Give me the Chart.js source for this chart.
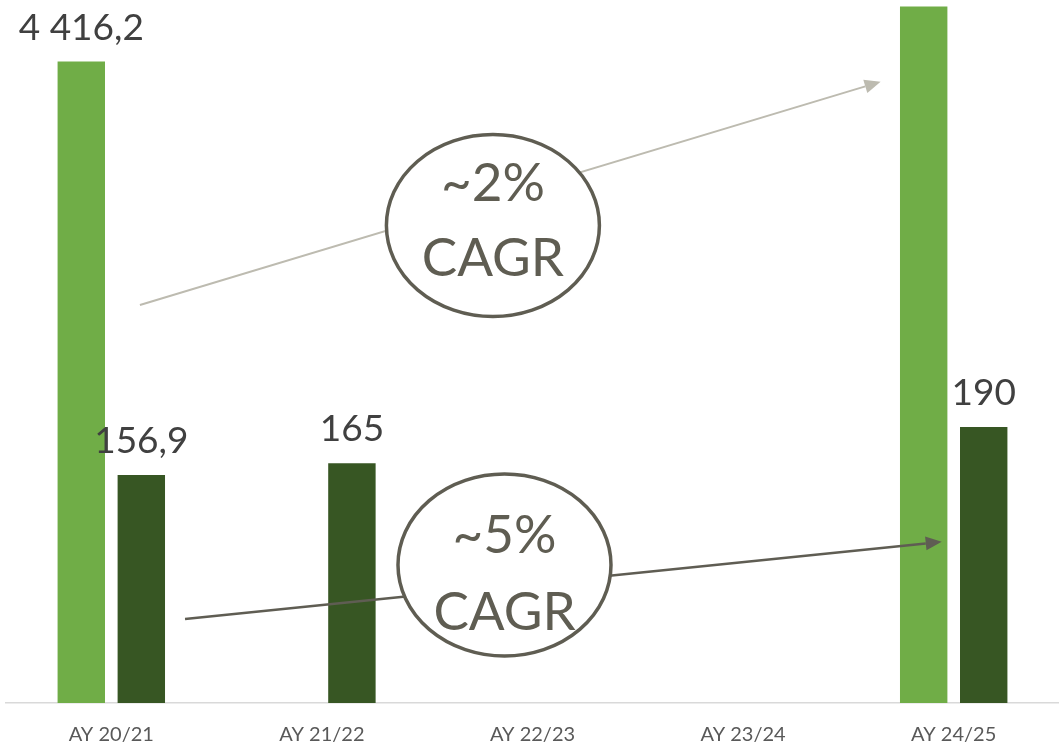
<!DOCTYPE html>
<html lang="en">
<head>
    <meta charset="UTF-8">
    <title>AY revenue vs volume</title>
    <style>
        html, body {
            margin: 0;
            padding: 0;
            background: #fff;
        }
        .wrap {
            position: relative;
            width: 1059px;
            height: 747px;
        }
    </style>
</head>
<body>
    <div class="wrap">
        <canvas id="chart"></canvas>
    </div>

    <script src="https://cdn.jsdelivr.net/npm/chart.js"></script>
    <script>
        // data
        const categories = ['AY 20/21', 'AY 21/22', 'AY 22/23', 'AY 23/24', 'AY 24/25'];
        const lightValues = [4416.2, null, null, null, 4795];
        const darkValues = [156.9, 165, null, null, 190];

        // CAGR callouts: positions in category index / axis value terms
        const callouts = [
            { text: ['~2%', 'CAGR'], axis: 'yL', cat: 1.812, val: 3287, lines: [-25, 50],
              arrow: { from: [0.136, 2740], to: [3.653, 4277], color: '#BDBBB0', width: 2 } },
            { text: ['~5%', 'CAGR'], axis: 'yD', cat: 1.867, val: 95, lines: [-12, 65],
              arrow: { from: [0.35, 57.8], to: [3.943, 111], color: '#5F5D53', width: 2.5 } }
        ];

        const fmt = v => {
            const parts = String(v).split('.');
            const intPart = parts[0].replace(/\B(?=(\d{3})+(?!\d))/g, ' ');
            return parts[1] ? intPart + ',' + parts[1] : intPart;
        };

        const valueLabels = {
            id: 'valueLabels',
            afterDatasetsDraw(chart) {
                const ctx = chart.ctx;
                ctx.save();
                ctx.font = '37px Lato';
                ctx.fillStyle = '#404040';
                ctx.textAlign = 'center';
                ctx.textBaseline = 'alphabetic';
                chart.data.datasets.forEach((ds, di) => {
                    chart.getDatasetMeta(di).data.forEach((bar, i) => {
                        if (ds.data[i] == null) return;
                        ctx.fillText(fmt(ds.data[i]), bar.x, bar.y - 22);
                    });
                });
                ctx.restore();
            }
        };

        function arrowLine(ctx, x1, y1, x2, y2, color, width) {
            const ang = Math.atan2(y2 - y1, x2 - x1);
            const len = 16, half = 7;
            const bx = x2 - len * Math.cos(ang), by = y2 - len * Math.sin(ang);
            ctx.strokeStyle = color;
            ctx.fillStyle = color;
            ctx.lineWidth = width;
            ctx.beginPath();
            ctx.moveTo(x1, y1);
            ctx.lineTo(bx, by);
            ctx.stroke();
            ctx.beginPath();
            ctx.moveTo(x2, y2);
            ctx.lineTo(bx + half * Math.sin(ang), by - half * Math.cos(ang));
            ctx.lineTo(bx - half * Math.sin(ang), by + half * Math.cos(ang));
            ctx.closePath();
            ctx.fill();
        }

        const cagrCallouts = {
            id: 'cagrCallouts',
            afterDatasetsDraw(chart) {
                const ctx = chart.ctx;
                const x = chart.scales.x;
                const step = x.getPixelForValue(1) - x.getPixelForValue(0);
                const px = c => x.getPixelForValue(0) + c * step;
                ctx.save();
                callouts.forEach(c => {
                    const y = chart.scales[c.axis];
                    const a = c.arrow;
                    arrowLine(ctx, px(a.from[0]), y.getPixelForValue(a.from[1]),
                        px(a.to[0]), y.getPixelForValue(a.to[1]), a.color, a.width);

                    const cx = px(c.cat), cy = y.getPixelForValue(c.val);
                    ctx.beginPath();
                    ctx.ellipse(cx, cy, 106.5, 91, 0, 0, Math.PI * 2);
                    ctx.fillStyle = '#fff';
                    ctx.fill();
                    ctx.lineWidth = 3.5;
                    ctx.strokeStyle = '#5F5D52';
                    ctx.stroke();

                    ctx.fillStyle = '#5F5D52';
                    ctx.font = '53px Lato';
                    ctx.textAlign = 'center';
                    ctx.textBaseline = 'alphabetic';
                    c.text.forEach((t, k) => ctx.fillText(t, cx, cy + c.lines[k]));
                });
                ctx.restore();
            }
        };

        new Chart(document.getElementById('chart'), {
            type: 'bar',
            data: {
                labels: categories,
                datasets: [
                    {
                        data: lightValues,
                        yAxisID: 'yL',
                        backgroundColor: '#70AD47',
                        categoryPercentage: 0.57,
                        barPercentage: 0.79
                    },
                    {
                        data: darkValues,
                        yAxisID: 'yD',
                        backgroundColor: '#375623',
                        categoryPercentage: 0.57,
                        barPercentage: 0.79
                    }
                ]
            },
            options: {
                responsive: true,
                maintainAspectRatio: false,
                animation: false,
                layout: { padding: { left: 6, right: 0, top: 0, bottom: -20 } },
                plugins: {
                    legend: { display: false },
                    tooltip: { enabled: false }
                },
                scales: {
                    x: {
                        grid: { display: false, drawTicks: false },
                        border: { display: true, color: '#D9D9D9', width: 1.5 },
                        ticks: {
                            color: '#595959',
                            padding: 20,
                            font: { family: 'Lato', size: 20 }
                        }
                    },
                    yL: { display: false, min: 0, max: 4840 },
                    yD: { display: false, min: 0, max: 484 }
                }
            },
            plugins: [valueLabels, cagrCallouts]
        });
    </script>
</body>
</html>
